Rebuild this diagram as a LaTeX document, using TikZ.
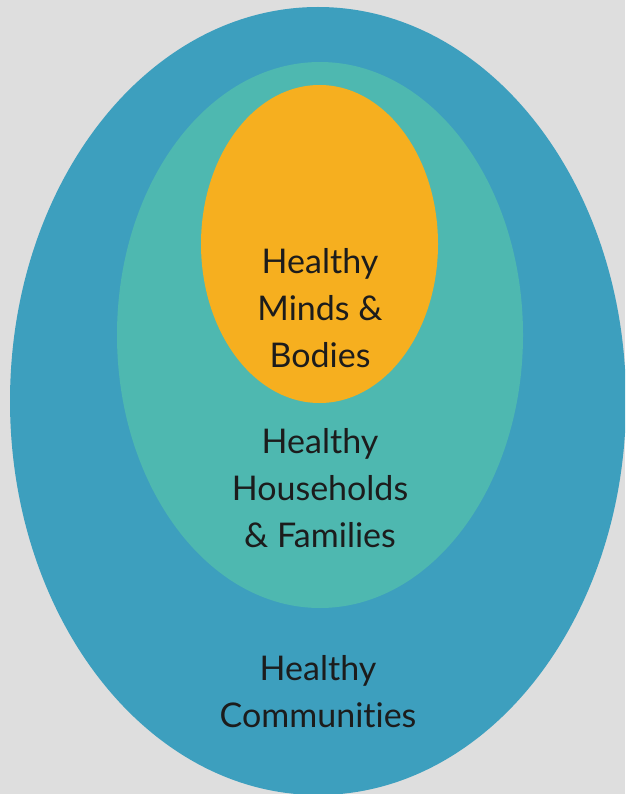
\documentclass[tikz,border=0pt]{standalone}
\usepackage{fontspec}
\setmainfont{Lato}[Ligatures=NoCommon]
\definecolor{paper}{HTML}{DEDEDE}
\definecolor{commblue}{HTML}{3D9FBE}
\definecolor{hometeal}{HTML}{4EB8B0}
\definecolor{mindgold}{HTML}{F6AF1F}
\definecolor{ink}{HTML}{1C1C1C}
\tikzset{
  ringtext/.style={text=ink, align=center, inner sep=0pt,
    font=\fontsize{34}{47}\selectfont}
}
\begin{document}
\begin{tikzpicture}[x=1pt,y=-1pt]
  \fill[paper] (0,0) rectangle (625,794);
  \useasboundingbox (0,0) rectangle (625,794);
  \begin{scope}
    \clip (0,0) rectangle (625,794);
    % outer ring, then the two inner ones
    \fill[commblue] (318,401) ellipse (308 and 394);
    \fill[hometeal] (320,335) ellipse (203 and 273);
    \fill[mindgold] (319.5,244) ellipse (118.5 and 159);
  \end{scope}
  \node[ringtext] (minds) at (320,308) {Healthy\\Minds \&\\Bodies};
  \node[ringtext] (homes) at (320,488) {Healthy\\Households\\\& Families};
  \node[ringtext] (towns) at (318,692) {Healthy\\Communities};
\end{tikzpicture}
\end{document}
